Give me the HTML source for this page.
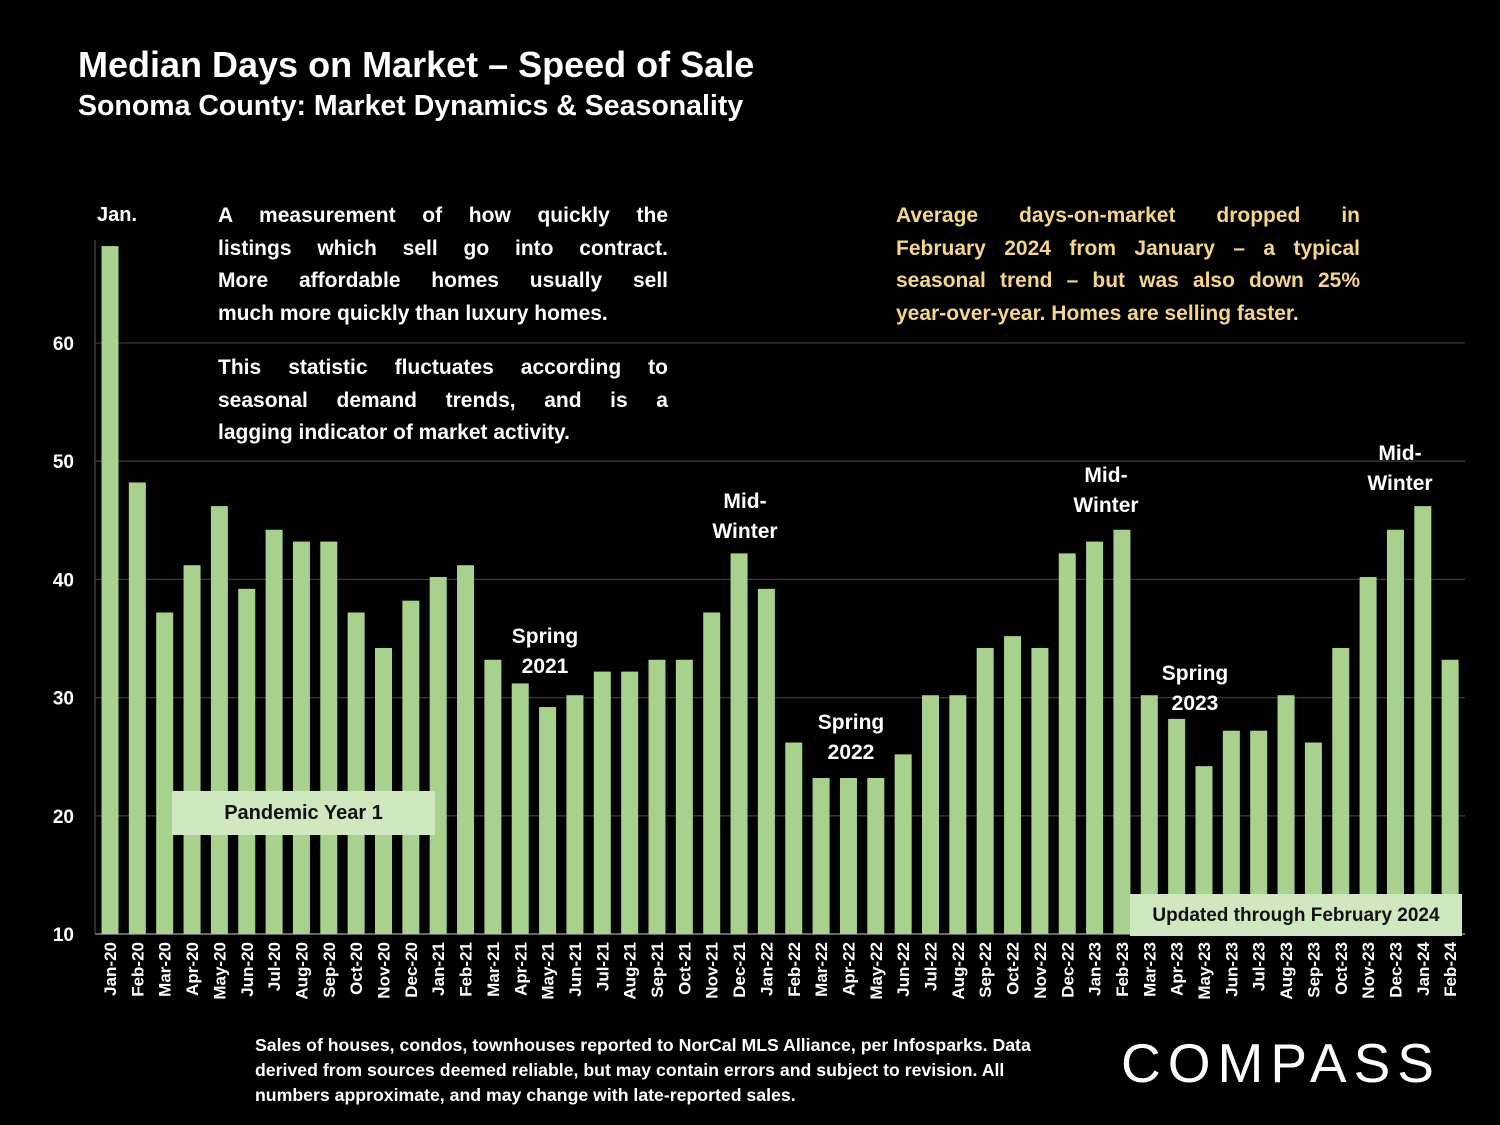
<!DOCTYPE html>
<html><head><meta charset="utf-8"><style>
html,body{margin:0;padding:0;background:#000;}
body{width:1500px;height:1125px;position:relative;overflow:hidden;font-family:"Liberation Sans",sans-serif;color:#fff;}
.t{position:absolute;font-weight:bold;}
.j{text-align:justify;text-align-last:justify;}
.ann{position:absolute;font-weight:bold;font-size:21px;line-height:30px;text-align:center;width:120px;}
</style></head><body>
<div class="t" style="left:78px;top:44px;font-size:36px;">Median Days on Market – Speed of Sale</div>
<div class="t" style="left:78px;top:90px;font-size:28.5px;">Sonoma County: Market Dynamics &amp; Seasonality</div>
<svg id="chart" width="1500" height="1125" style="position:absolute;left:0;top:0">
<g id="grid"></g><g id="bars"></g><g id="labels"></g>
</svg>
<div class="t" style="left:218px;top:200px;width:450px;font-size:21px;line-height:32.5px;">
<div class="j">A measurement of how quickly the</div><div class="j">listings which sell go into contract.</div><div class="j">More affordable homes usually sell</div><div>much more quickly than luxury homes.</div>
<div class="j" style="margin-top:22px">This statistic fluctuates according to</div><div class="j">seasonal demand trends, and is a</div><div>lagging indicator of market activity.</div></div>
<div class="t" style="left:896px;top:200px;width:464px;font-size:21px;line-height:32.5px;color:#f5d58a;">
<div class="j">Average days-on-market dropped in</div><div class="j">February 2024 from January – a typical</div><div class="j">seasonal trend – but was also down 25%</div><div>year-over-year. Homes are selling faster.</div></div>
<div class="t" style="left:172px;top:791px;width:263px;height:44px;background:#cfe8bf;color:#111;font-size:20px;line-height:44px;text-align:center;">Pandemic Year 1</div>
<div class="t" style="left:1130px;top:894px;width:332px;height:42px;background:#cfe8bf;color:#111;font-size:19px;line-height:44px;text-align:center;">Updated through February 2024</div>
<div class="ann" style="left:57px;top:200px;font-size:20px;">Jan.</div>
<div class="ann" style="left:485px;top:622px;">Spring<br>2021</div>
<div class="ann" style="left:685px;top:487px;">Mid-<br>Winter</div>
<div class="ann" style="left:791px;top:708px;">Spring<br>2022</div>
<div class="ann" style="left:1046px;top:461px;">Mid-<br>Winter</div>
<div class="ann" style="left:1135px;top:659px;">Spring<br>2023</div>
<div class="ann" style="left:1340px;top:439px;">Mid-<br>Winter</div>
<div class="t" style="left:255px;top:1033px;font-size:17.7px;line-height:25px;">Sales of houses, condos, townhouses reported to NorCal MLS Alliance, per Infosparks. Data<br>derived from sources deemed reliable, but may contain errors and subject to revision. All<br>numbers approximate, and may change with late-reported sales.</div>
<div style="position:absolute;left:1121px;top:1031px;font-size:55px;letter-spacing:7px;font-family:'Liberation Sans',sans-serif;">COMPASS</div>
<script>
const categories=["Jan-20","Feb-20","Mar-20","Apr-20","May-20","Jun-20","Jul-20","Aug-20","Sep-20","Oct-20","Nov-20","Dec-20","Jan-21","Feb-21","Mar-21","Apr-21","May-21","Jun-21","Jul-21","Aug-21","Sep-21","Oct-21","Nov-21","Dec-21","Jan-22","Feb-22","Mar-22","Apr-22","May-22","Jun-22","Jul-22","Aug-22","Sep-22","Oct-22","Nov-22","Dec-22","Jan-23","Feb-23","Mar-23","Apr-23","May-23","Jun-23","Jul-23","Aug-23","Sep-23","Oct-23","Nov-23","Dec-23","Jan-24","Feb-24"];
const values=[68.2,48.2,37.2,41.2,46.2,39.2,44.2,43.2,43.2,37.2,34.2,38.2,40.2,41.2,33.2,31.2,29.2,30.2,32.2,32.2,33.2,33.2,37.2,42.2,39.2,26.2,23.2,23.2,23.2,25.2,30.2,30.2,34.2,35.2,34.2,42.2,43.2,44.2,30.2,28.2,24.2,27.2,27.2,30.2,26.2,34.2,40.2,44.2,46.2,33.2];
const yTicks=[10,20,30,40,50,60];
const NS="http://www.w3.org/2000/svg";
const y=v=>934-(v-10)*11.82;
const x=i=>110+i*27.35;
function mk(t,a,p){const e=document.createElementNS(NS,t);for(const k in a)e.setAttribute(k,a[k]);p.appendChild(e);return e;}
const grid=document.getElementById('grid'),bars=document.getElementById('bars'),labels=document.getElementById('labels');
yTicks.forEach(v=>{
 if(v>10){const l=mk('line',{x1:95,x2:1465,y1:y(v),y2:y(v),stroke:'#3a3a3a','stroke-width':1.3},grid);
 
 }
 const t=mk('text',{x:74,y:y(v)+7,'text-anchor':'end','font-size':19,'font-weight':'bold',fill:'#fff','font-family':'Liberation Sans'},labels);
 t.textContent=v;
 
 
});
const ax=mk('line',{x1:95,x2:1465,y1:934,y2:934,stroke:'#888','stroke-width':1.5},grid);


const ay=mk('line',{x1:95,x2:95,y1:240,y2:934,stroke:'#444','stroke-width':1.3},grid);


values.forEach((v,i)=>{
 const r=mk('rect',{x:x(i)-8.5,y:y(v),width:17,height:934-y(v),fill:'#a9d18e'},bars);
 
 
 const t=mk('text',{transform:`translate(${x(i)+6},942) rotate(-90)`,'text-anchor':'end','font-size':17,'font-weight':'bold',fill:'#fff','font-family':'Liberation Sans'},labels);
 t.textContent=categories[i];
 
 
});
</script>
</body></html>
